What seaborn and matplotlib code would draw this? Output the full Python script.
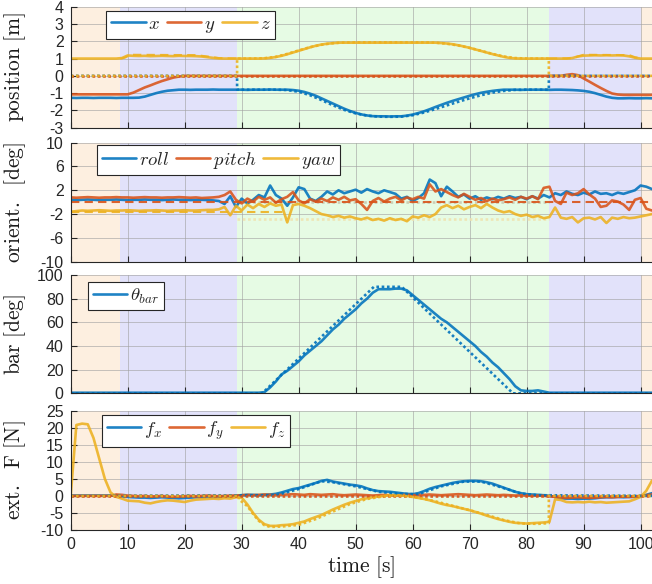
import numpy as np
import matplotlib
matplotlib.use('Agg')
import matplotlib.pyplot as plt
import seaborn as sns

# sample times of the measured signals [s]
time_s = np.arange(0, 103)

# phases of the experiment (start/end in s) and their shading
phase_edges = [0, 8.7, 29.2, 83.9, 100.1, 102]
phase_colors = ['#fdefe0', '#e2e2fa', '#e6fbe4', '#e2e2fa', '#fdefe0']

# ---- position [m] ----
pos_x = [-1.27, -1.28, -1.27, -1.27, -1.28, -1.27, -1.27, -1.27, -1.28, -1.27, -1.27, -1.27,
         -1.26, -1.2, -1.1, -1.0, -0.92, -0.86, -0.83,
         -0.8, -0.8, -0.81, -0.8, -0.8, -0.8, -0.79, -0.8, -0.8, -0.8,
         -0.8, -0.8, -0.81, -0.8, -0.8, -0.8, -0.79, -0.8, -0.8, -0.8,
         -0.82, -0.86, -0.93, -1.03, -1.15, -1.3, -1.45, -1.6, -1.75, -1.9, -2.03, -2.14, -2.23, -2.29, -2.33,
         -2.34, -2.34, -2.35, -2.34, -2.34,
         -2.3, -2.24, -2.15, -2.05, -1.93, -1.8, -1.68, -1.56, -1.45, -1.35, -1.25, -1.15, -1.06, -0.98,
         -0.92, -0.87, -0.83,
         -0.8, -0.8, -0.8, -0.81, -0.8, -0.8, -0.8, -0.8, -0.81, -0.8, -0.8, -0.81, -0.82,
         -0.84, -0.87, -0.92, -1.0, -1.1, -1.2, -1.27,
         -1.3, -1.3, -1.29, -1.3, -1.3, -1.29, -1.3]
pos_y = [-1.07] * 11 + \
        [-0.97, -0.82, -0.67, -0.55, -0.42, -0.3, -0.2, -0.1, -0.04] + \
        [0.0] * 67 + \
        [0.06, 0.1, 0.04, -0.15, -0.33, -0.52, -0.7, -0.87, -1.02, -1.08] + \
        [-1.1] * 6
pos_z = [1.0] * 9 + [1.03, 1.18, 1.16] + \
        [1.15, 1.16, 1.14, 1.15, 1.16, 1.15, 1.14, 1.16, 1.15, 1.15] + \
        [1.14, 1.12, 1.08, 1.04, 1.01] + [1.0] * 7 + \
        [1.01, 1.04, 1.09, 1.16, 1.25, 1.35, 1.45, 1.55, 1.65, 1.74, 1.81, 1.86, 1.89] + \
        [1.92] * 18 + \
        [1.9, 1.87, 1.83, 1.77, 1.7, 1.62, 1.53, 1.44, 1.35, 1.26, 1.18, 1.1, 1.04, 1.01] + \
        [1.0] * 9 + [1.03, 1.12, 1.17] + \
        [1.18, 1.19, 1.18, 1.19, 1.18, 1.19, 1.18] + [1.13, 1.05] + [1.0] * 3

# reference (dotted), active in the green phase only
pos_ref_t = [0, 29.2, 29.2, 32, 34, 36, 38, 40, 42, 44, 46, 48, 50, 52, 54, 56, 58, 60,
             62, 64, 66, 68, 70, 72, 74, 76, 78, 80, 82, 83.9, 83.9, 102]
pos_ref_x = [0, 0, -0.8, -0.8, -0.8, -0.8, -0.82, -0.92, -1.12, -1.4, -1.7, -1.97, -2.17, -2.3,
             -2.36, -2.37, -2.36, -2.28, -2.12, -1.92, -1.71, -1.5, -1.3, -1.12, -0.97, -0.87,
             -0.81, -0.8, -0.8, -0.8, 0, 0]
pos_ref_y = [0] * 32
pos_ref_z = [0, 0, 1.0, 1.0, 1.02, 1.1, 1.27, 1.47, 1.66, 1.8, 1.89, 1.93,
             1.94, 1.94, 1.94, 1.94, 1.94, 1.94, 1.94,
             1.92, 1.86, 1.76, 1.62, 1.45, 1.27, 1.12, 1.03, 1.0, 1.0, 1.0, 0, 0]
# dashed height estimate in the blue phases
zdash_left_t = [8.7, 9.5, 10.5, 22, 24, 26, 29.2]
zdash_left_v = [1.0, 1.05, 1.22, 1.2, 1.12, 1.03, 1.0]
zdash_right_t = [83.9, 88, 89, 90, 98, 99, 100.1]
zdash_right_v = [1.0, 1.02, 1.12, 1.22, 1.2, 1.08, 1.0]

# ---- orientation [deg] ----
roll = [0.4, 0.35, 0.4, 0.45, 0.4, 0.35, 0.4, 0.4, 0.45, 0.4, 0.35, 0.4, 0.4, 0.45, 0.4, 0.4,
        0.35, 0.4, 0.45, 0.4, 0.4, 0.35, 0.4, 0.4, 0.35, 0.3, 0.2,
        -0.3, 1.0, -0.8,
        0.6, -0.2, 0.4, 1.2, 0.8, 2.8, 1.2, 0.6, -0.6, 0.8,
        2.5, 2.2, 0.6, 0.2, 0.9, 1.8, 1.3, 2.0, 1.5, 1.8,
        2.1, 1.6, 2.2, 1.8, 1.5, 2.0, 1.7, 1.4, 0.6, 0.9,
        0.2, 0.7, 1.5, 3.8, 3.2, 1.0, 2.6, 1.8, 0.9, 1.3,
        0.6, 1.0, 0.4, 0.8, 0.5, 0.9, 0.6, 1.0, 0.7, 0.9,
        0.5, 1.0, 0.6, 1.2, 0.8, 1.5, 1.2, 1.8, 1.4, 1.2,
        1.6, 1.3, 1.8, 1.4, 1.5, 1.2, 1.6, 1.4, 1.7, 2.0,
        2.8, 2.6, 2.2]
pitch = [0.8, 0.75, 0.8, 0.85, 0.8, 0.75, 0.8, 0.8, 0.85, 0.8, 0.8, 0.75, 0.8, 0.85, 0.8, 0.8,
         0.75, 0.8, 0.8, 0.85, 0.8, 0.75, 0.8, 0.7, 0.75, 0.8, 0.9,
         1.2, 1.8, 0.4,
         -0.2, 0.6, 0.1, 0.9, 0.4, 0.8, -0.1, 0.5, 0.9, 1.7,
         0.3, -0.2, 0.5, 0.1, 0.6, 0.2, 0.8, 0.4, 0.9, 0.3,
         0.5, -0.3, -1.3, 0.2, 0.7, 0.1, 0.6, 0.9, 0.3, 0.8,
         0.5, 0.9, 0.6, 3.0, 1.8, 2.2, 1.7, 1.2, 0.8, 1.4,
         0.9, 0.4, 0.7, 0.2, 0.6, 0.3, 0.5, 0.8, 0.4, 0.9,
         0.6, 1.0, 0.5, 2.4, 2.6, 0.2, -0.3, 1.6, 1.2, 1.5,
         2.2, 1.3, 0.6, -0.8, -0.6, 0.3, 0.1, -0.4, -1.3, 0.4,
         0.7, -1.1, -1.4]
yaw = [-1.6, -1.5, -1.4, -1.45, -1.4, -1.35, -1.4, -1.45, -1.4, -1.4, -1.35, -1.4, -1.45, -1.4,
       -1.4, -1.35, -1.4, -1.45, -1.4, -1.4, -1.35, -1.4, -1.4, -1.35, -1.3, -1.3, -1.2,
       -0.8, -2.2, -0.6,
       -1.4, -0.4, -1.0, -0.3, -0.8, -0.2, -0.6, -0.4, -3.4, -0.5,
       -0.3, -0.6, -1.0, -1.5, -2.0, -2.2, -2.5, -2.3, -2.6, -2.4,
       -2.7, -2.9, -2.6, -3.0, -2.8, -3.1, -2.7, -3.0, -2.8, -3.2,
       -2.4, -2.6, -2.2, -2.5, -2.0, -0.9, -0.5, -1.0, -0.6, -1.2,
       -0.8, -0.5, -1.0, -0.3, -0.9, -1.4, -1.7, -1.5, -2.0, -2.3,
       -2.1, -2.5, -2.3, -2.7, -2.5, -0.9, -2.6, -2.8, -2.5, -3.4,
       -2.7, -2.6, -2.9, -2.5, -3.5, -2.6, -2.8, -2.5, -2.7, -2.6,
       -2.4, -2.2, -2.0]
pitch_ref_t = [0, 102]
pitch_ref_v = [0.1, 0.1]
yaw_ref_t = [0, 38]
yaw_ref_v = [-1.6, -1.6]
green_ref_t = [29.2, 83.9]
green_ref_zero = [0.1, 0.1]
green_ref_yaw = [-2.8, -2.8]

# ---- bar angle [deg] ----
theta_bar = [0.5] * 34 + \
            [1, 5, 10, 16, 19, 23, 27, 32, 36, 40, 44, 49, 54, 58, 63, 67, 71, 76, 80, 85,
             88, 88, 88, 88.5, 88.5, 87, 83, 79, 75, 71, 67, 63, 60, 56, 52, 48, 44, 40, 35,
             31, 26, 22, 17, 12, 6, 2.5, 2, 2, 2.5, 1.5] + \
            [0.5] * 19
theta_ref_t = [0, 33.6, 53.2, 58.1, 77.6, 102]
theta_ref_v = [0, 0, 90, 90, 0, 0]

# ---- external force [N] ----
f_x = [0.1, 0.1, 0.1, 0.1, 0.1, 0.1, 0.1, 0.1, 0.2,
       -0.2, -0.3, -0.4, -0.5, -0.5, -0.6, -0.5, -0.4, -0.5, -0.6, -0.7, -0.6, -0.5, -0.4, -0.4,
       -0.3, -0.4, -0.3, -0.2, -0.2,
       0.0, 0.2, 0.3, 0.3, 0.2, 0.3, 0.4,
       0.6, 1.0, 1.5, 2.0, 2.3, 2.8, 3.3, 3.8, 4.4, 4.7,
       4.2, 3.9, 3.6, 3.3, 3.1, 2.8, 2.2, 1.7, 1.4, 1.3, 1.2, 1.0, 0.8, 0.6, 0.5,
       0.8, 1.4, 2.1, 2.6, 3.0, 3.4, 3.8, 4.1, 4.3, 4.4, 4.4, 4.3, 4.0, 3.6, 3.0, 2.4, 1.8,
       1.2, 0.8, 0.5,
       0.4, 0.3, 0.2, 0.0, -0.3, -0.7, -0.8, -0.8, -0.9, -0.8, -0.8, -0.7, -0.5, -0.4, -0.4,
       -0.3, -0.4, -0.3, -0.3, -0.2, 0.3, 0.8]
f_y = [0.0, 0.0, 0.0, 0.0, 0.0, 0.0, 0.0, 0.0, 0.4,
       0.3, 0.1, 0.0, -0.1, 0.0, -0.2, -0.1, 0.0, -0.2, -0.3, -0.2, -0.1, 0.0, -0.1, 0.0, 0.1,
       0.0, -0.1, 0.0, 0.1,
       0.1, 0.2, 0.3, 0.2, 0.3, 0.4, 0.3, 0.2, 0.3, 0.4, 0.5, 0.4, 0.3, 0.5, 0.4, 0.3, 0.4,
       0.5, 0.3, 0.2, 0.3, 0.4, 0.3, 0.2, 0.1, 0.2, 0.3, 0.2, 0.1, 0.2, 0.3, 0.2,
       0.2, 0.3, 0.4, 0.3, 0.2, 0.3, 0.4, 0.5, 0.4, 0.3, 0.2, 0.3, 0.4, 0.3, 0.2, 0.3, 0.2,
       0.1, 0.2, 0.1, 0.0, 0.1, 0.0, -0.1,
       -0.3, -0.5, -0.6, -0.5, -0.4, -0.5, -0.6, -0.5, -0.4, -0.3, -0.4, -0.3, -0.2, -0.3,
       -0.2, 0.0, 0.2, 0.4]
f_z = [0.0, 20.8, 21.2, 21.0, 17.0, 11.0, 5.0, 1.0, -0.3,
       -0.8, -1.4, -1.5, -1.6, -2.0, -2.2, -1.8, -1.5, -1.3, -1.4, -1.6, -1.8, -1.4, -1.1, -1.0,
       -0.9, -0.8, -0.9, -0.7, -0.8,
       -0.4, -0.5, -2.5, -5.0, -7.0, -8.3, -8.8, -8.8, -8.6, -8.5, -8.3, -7.9, -7.5, -6.8, -6.2,
       -5.6, -4.8,
       -4.0, -3.3, -2.6, -2.0, -1.5, -1.0, -0.7, -0.4, -0.2, 0.0, 0.2, 0.2, 0.1, 0.0, -0.3,
       -0.6, -0.9,
       -1.3, -1.8, -2.3, -2.7, -3.0, -3.4, -3.8, -4.2, -4.7, -5.2, -5.8, -6.3, -6.8, -7.2, -7.6,
       -7.9, -8.0, -8.1, -8.0, -7.9, -7.8, -7.6,
       -1.0, -1.2, -1.8, -1.9, -1.8, -1.9, -1.7, -1.9, -1.8, -2.0, -1.9, -1.8, -1.7, -1.6, -1.0,
       -0.3, 1.5, 4.5]
fz_ref_t = [0, 29.5, 29.5, 31, 32, 33, 34, 35, 37, 40, 43, 46, 49, 52, 55, 58, 61, 64, 67, 70,
            73, 76, 79, 82, 83.9, 83.9, 102]
fz_ref_v = [0, 0, -1.0, -3.0, -5.3, -7.3, -8.6, -9.1, -9.0, -8.5, -6.8, -4.6, -2.4, -0.9, -0.1,
            0.1, -0.5, -1.6, -2.9, -4.2, -5.6, -7.1, -8.1, -8.2, -8.0, 0, 0]
fx_ref_t = [0, 36, 40, 44, 46, 50, 54, 58, 61, 65, 69, 72, 75, 79, 82, 102]
fx_ref_v = [0, 0.2, 2.0, 4.3, 4.0, 2.8, 1.2, 0.6, 0.5, 2.8, 4.2, 4.2, 2.8, 0.7, 0.2, 0]
fy_ref_t = [0, 102]
fy_ref_v = [0, 0]

# MATLAB default line colours
BLUE, RED, YELLOW = '#0072BD', '#D95319', '#EDB120'

sns.set_theme(style='ticks')
plt.rcParams['font.family'] = ['Liberation Sans', 'DejaVu Sans']
plt.rcParams['mathtext.fontset'] = 'cm'
plt.rcParams['axes.unicode_minus'] = False

SOLID = dict(lw=1.9, alpha=0.88)
DOT = dict(lw=1.9, ls=(0, (1, 1)), alpha=0.9)
DASH = dict(lw=1.5, ls=(0, (4, 2.5)), alpha=0.9)


def line(ax, t, v, color, label=None, **kw):
    sns.lineplot(x=np.asarray(t, float), y=np.asarray(v, float), ax=ax, color=color,
                 estimator=None, sort=False, label=label, legend=False, **kw)
    return ax.lines[-1]


def style_axis(ax, ylim, yticks, ylabel):
    for a, b, c in zip(phase_edges[:-1], phase_edges[1:], phase_colors):
        ax.axvspan(a, b, color=c, lw=0, zorder=0)
    ax.set_xlim(0, 102)
    ax.set_ylim(*ylim)
    ax.set_yticks(yticks)
    ax.set_xticks(range(0, 101, 10))
    ax.set_axisbelow(True)
    ax.grid(True, color='#a0a0a0', lw=0.7, alpha=0.6)
    ax.set_facecolor('white')
    sns.despine(ax=ax)
    for s in ['left', 'bottom']:
        ax.spines[s].set_color('#262626')
        ax.spines[s].set_linewidth(0.8)
    ax.tick_params(direction='in', length=4, width=0.8, color='#262626',
                   labelsize=11.5, labelcolor='#262626', pad=5)
    ax.set_ylabel(ylabel, fontsize=15.5, color='#1a1a1a')
    ax.yaxis.set_label_coords(-0.074, 0.5)
    ax.set_xlabel('')


def legend(ax, handles, anchor):
    leg = ax.legend(handles=handles, loc='upper left', bbox_to_anchor=anchor,
                    ncol=len(handles), fontsize=13.5, frameon=True, fancybox=False,
                    framealpha=1, edgecolor='#262626', handlelength=1.85,
                    handletextpad=0.15, columnspacing=0.35, borderpad=0.25,
                    borderaxespad=0)
    leg.get_frame().set_linewidth(0.8)


fig = plt.figure(figsize=(6.52, 5.84), dpi=100)
L, W = 0.1084, 0.8916
ax1 = fig.add_axes([L, 0.7813, W, 0.2072])
ax2 = fig.add_axes([L, 0.5519, W, 0.2038])
ax3 = fig.add_axes([L, 0.3265, W, 0.2026])
ax4 = fig.add_axes([L, 0.0925, W, 0.2043])

# position
h1 = [line(ax1, time_s, pos_x, BLUE, '$x$', **SOLID),
      line(ax1, time_s, pos_y, RED, '$y$', **SOLID),
      line(ax1, time_s, pos_z, YELLOW, '$z$', **SOLID)]
line(ax1, zdash_left_t, zdash_left_v, YELLOW, **DASH)
line(ax1, zdash_right_t, zdash_right_v, YELLOW, **DASH)
line(ax1, pos_ref_t, pos_ref_x, BLUE, **DOT)
line(ax1, pos_ref_t, pos_ref_y, RED, **DOT)
line(ax1, pos_ref_t, pos_ref_z, YELLOW, **DOT)
style_axis(ax1, (-3, 4), range(-3, 5), r'$\mathrm{position}\ [\mathrm{m}]$')
legend(ax1, h1, (0.061, 0.967))

# orientation
line(ax2, green_ref_t, green_ref_zero, '#c8c8b0', **DOT)
line(ax2, green_ref_t, green_ref_yaw, '#efe3b0', **DOT)
h2 = [line(ax2, time_s, roll, BLUE, '$roll$', **SOLID),
      line(ax2, time_s, pitch, RED, '$pitch$', **SOLID),
      line(ax2, time_s, yaw, YELLOW, '$yaw$', **SOLID)]
line(ax2, pitch_ref_t, pitch_ref_v, RED, **DASH)
line(ax2, yaw_ref_t, yaw_ref_v, YELLOW, **DASH)
style_axis(ax2, (-10, 10), [-10, -6, -2, 2, 6, 10], r'$\mathrm{orient.}\ \ [\mathrm{deg}]$')
legend(ax2, h2, (0.045, 0.981))

# bar angle
h3 = [line(ax3, time_s, theta_bar, BLUE, r'$\theta_{bar}$', **SOLID)]
line(ax3, theta_ref_t, theta_ref_v, BLUE, **DOT)
style_axis(ax3, (0, 100), range(0, 101, 20), r'$\mathrm{bar}\ [\mathrm{deg}]$')
legend(ax3, h3, (0.030, 0.943))

# external force
h4 = [line(ax4, time_s, f_x, BLUE, '$f_x$', **SOLID),
      line(ax4, time_s, f_y, RED, '$f_y$', **SOLID),
      line(ax4, time_s, f_z, YELLOW, '$f_z$', **SOLID)]
line(ax4, fx_ref_t, fx_ref_v, BLUE, **DOT)
line(ax4, fy_ref_t, fy_ref_v, RED, **DOT)
line(ax4, fz_ref_t, fz_ref_v, YELLOW, **DOT)
style_axis(ax4, (-10, 25), range(-10, 26, 5), r'$\mathrm{ext.}\ \ \mathrm{F}\ [\mathrm{N}]$')
legend(ax4, h4, (0.054, 0.964))

for ax in (ax1, ax2, ax3):
    ax.tick_params(labelbottom=False)
ax4.set_xlabel(r'$\mathrm{time}\ [\mathrm{s}]$', fontsize=15.5, color='#1a1a1a')
ax4.xaxis.set_label_coords(0.5, -0.2)

fig.savefig('out.png', dpi=100)
